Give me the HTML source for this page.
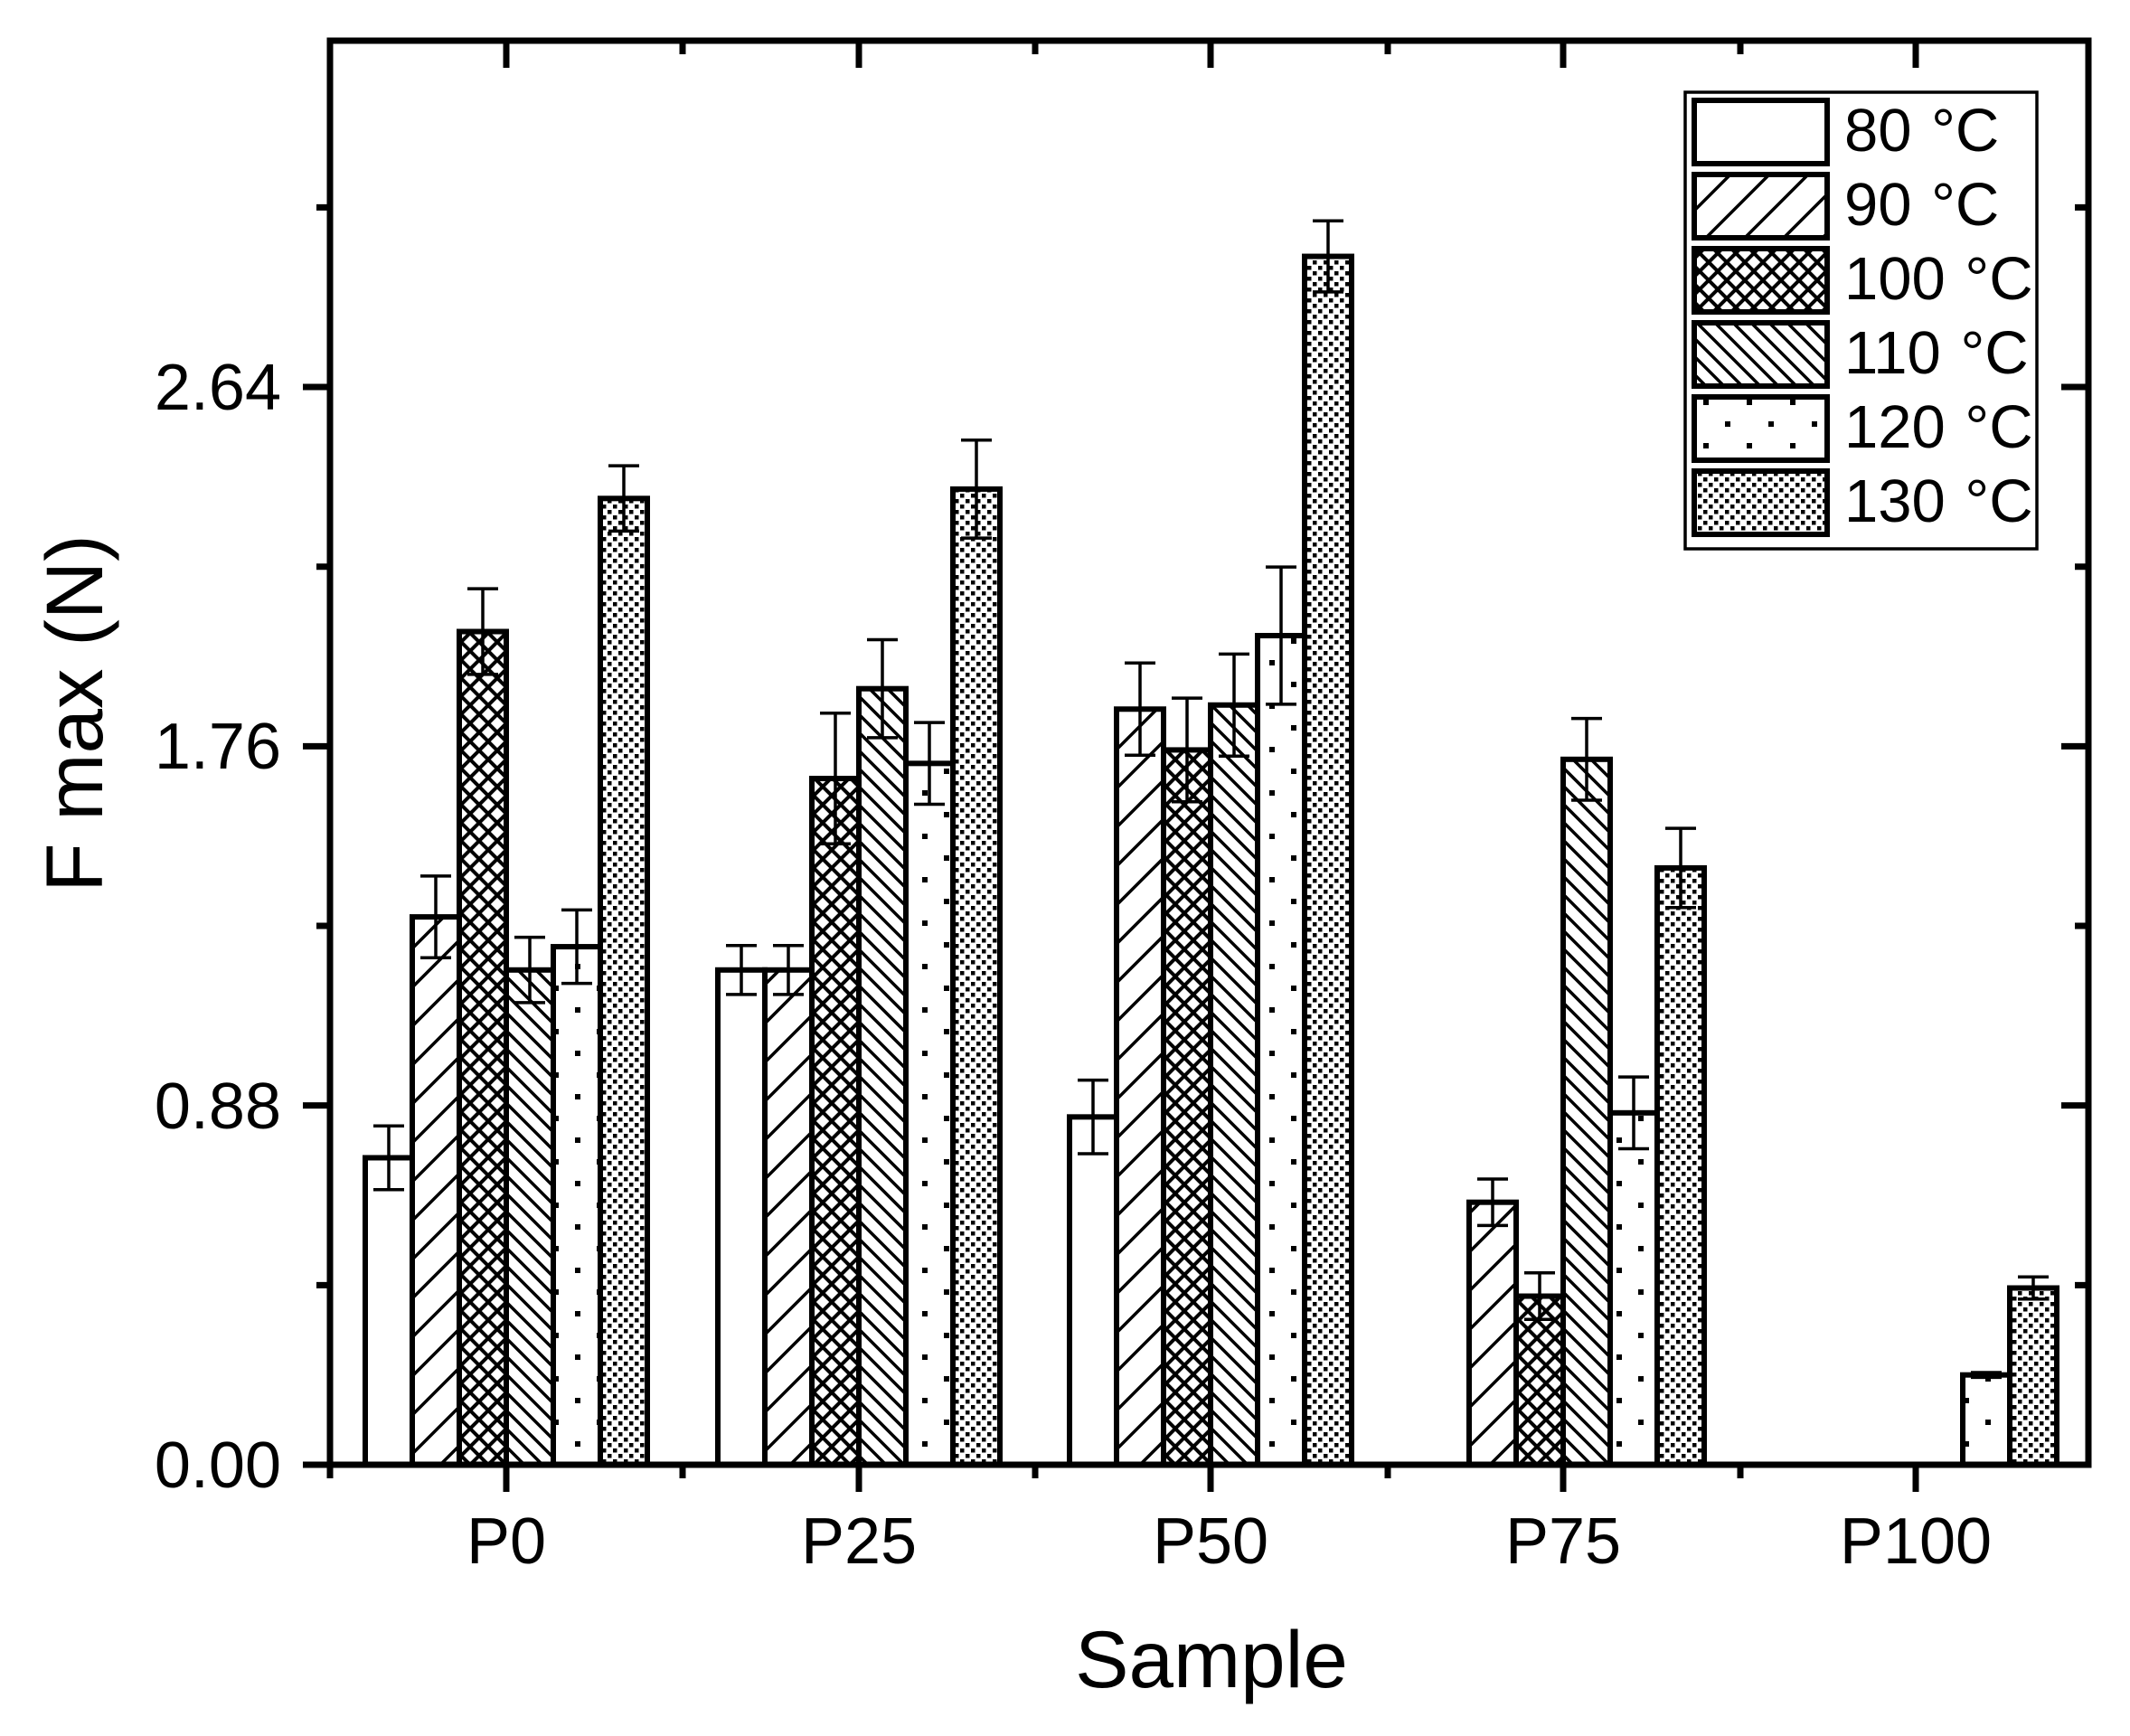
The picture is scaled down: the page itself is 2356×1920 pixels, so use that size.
<!DOCTYPE html>
<html><head><meta charset="utf-8"><style>html,body{margin:0;padding:0;background:#fff}svg{display:block}text{font-family:"Liberation Sans",Arial,sans-serif;fill:#000}</style></head>
<body>
<svg width="2356" height="1920" viewBox="0 0 2356 1920" xmlns="http://www.w3.org/2000/svg">
<defs>
<pattern id="p90" width="43" height="43" patternUnits="userSpaceOnUse"><path d="M-5,48 L48,-5 M-48,48 L5,-5 M38,48 L91,-5" stroke="#000" stroke-width="3.5"/></pattern>
<pattern id="p100" width="20" height="20" patternUnits="userSpaceOnUse"><path d="M-2,22 L22,-2 M-2,-2 L22,22 M-12,12 L12,-12 M8,32 L32,8 M-12,8 L12,32 M8,-12 L32,12" stroke="#000" stroke-width="4"/></pattern>
<pattern id="p110" width="20" height="20" patternUnits="userSpaceOnUse"><path d="M-2,-2 L22,22 M-12,8 L12,32 M8,-12 L32,12" stroke="#000" stroke-width="3.5"/></pattern>
<pattern id="p120" width="48" height="48" patternUnits="userSpaceOnUse"><rect x="12" y="10" width="6" height="6" fill="#000"/><rect x="36" y="34" width="6" height="6" fill="#000"/></pattern>
<pattern id="p130" width="12" height="12" patternUnits="userSpaceOnUse"><rect x="0" y="0" width="4.5" height="4.5" fill="#000"/><rect x="6" y="6" width="4.5" height="4.5" fill="#000"/></pattern>
</defs>
<g id="bars" stroke="#000" stroke-width="6"></g>
<g id="err" stroke="#000" stroke-width="3.5" fill="none"></g>
<rect x="365" y="45" width="1945" height="1575" fill="none" stroke="#000" stroke-width="7"/>
<g stroke="#000" stroke-width="7" id="ticks"></g>
<g font-size="72" text-anchor="end">
<text x="311" y="1645">0.00</text>
<text x="311" y="1248">0.88</text>
<text x="311" y="850">1.76</text>
<text x="311" y="453">2.64</text>
</g>
<g font-size="72" text-anchor="middle">
<text x="560" y="1729">P0</text>
<text x="950" y="1729">P25</text>
<text x="1339" y="1729">P50</text>
<text x="1729" y="1729">P75</text>
<text x="2119" y="1729">P100</text>
</g>
<text x="1340" y="1866" font-size="89" text-anchor="middle">Sample</text>
<text transform="translate(113,789) rotate(-90)" font-size="89" text-anchor="middle">F max (N)</text>
<rect x="1864" y="102" width="389" height="505" fill="#fff" stroke="#000" stroke-width="3.5"/>
<g stroke="#000" stroke-width="6">
<rect x="1874" y="111" width="147" height="70" fill="#fff"/>
<rect x="1874" y="193" width="147" height="70" fill="url(#p90)"/>
<rect x="1874" y="275" width="147" height="70" fill="url(#p100)"/>
<rect x="1874" y="357" width="147" height="70" fill="url(#p110)"/>
<rect x="1874" y="439" width="147" height="70" fill="url(#p120)"/>
<rect x="1874" y="521" width="147" height="70" fill="url(#p130)"/>
</g>
<g font-size="67">
<text x="2040" y="167">80 <tspan dx="3">°C</tspan></text>
<text x="2040" y="249">90 <tspan dx="3">°C</tspan></text>
<text x="2040" y="331">100 <tspan dx="3">°C</tspan></text>
<text x="2040" y="413">110 <tspan dx="3">°C</tspan></text>
<text x="2040" y="495">120 <tspan dx="3">°C</tspan></text>
<text x="2040" y="577">130 <tspan dx="3">°C</tspan></text>
</g>
<script>
var ns="http://www.w3.org/2000/svg";
function Y(v){return 1620-451.5*v;}
var centers=[560,950,1339,1729,2119];
var fills=["#fff","url(#p90)","url(#p100)","url(#p110)","url(#p120)","url(#p130)"];
var d=[
[[0.752,0.078],[1.342,0.1],[2.041,0.105],[1.212,0.08],[1.269,0.09],[2.367,0.08]],
[[1.212,0.06],[1.212,0.06],[1.681,0.16],[1.901,0.12],[1.718,0.1],[2.39,0.12]],
[[0.852,0.09],[1.851,0.113],[1.751,0.127],[1.861,0.125],[2.031,0.168],[2.96,0.087]],
[null,[0.643,0.057],[0.413,0.057],[1.728,0.1],[0.862,0.088],[1.462,0.097]],
[null,null,null,null,[0.22,0.006],[0.433,0.027]]];
var bars=document.getElementById("bars"),err=document.getElementById("err");
for(var g=0;g<5;g++)for(var i=0;i<6;i++){var e=d[g][i];if(!e)continue;
var x=centers[g]-156+i*52;var r=document.createElementNS(ns,"rect");
r.setAttribute("x",x);r.setAttribute("y",Y(e[0]));r.setAttribute("width",52);r.setAttribute("height",1620-Y(e[0]));r.setAttribute("fill",fills[i]);bars.appendChild(r);
var cx=x+26,t=Y(e[0]+e[1]),b=Y(e[0]-e[1]);var p=document.createElementNS(ns,"path");
p.setAttribute("d","M"+cx+","+t+"V"+b+"M"+(cx-17)+","+t+"H"+(cx+17)+"M"+(cx-17)+","+b+"H"+(cx+17));err.appendChild(p);}
var tk=document.getElementById("ticks"),s="";
for(var k=0;k<=7;k++){var y=Y(0.44*k);if(y<50)break;var L=(k%2==0)?30:15;s+="M365,"+y+"H"+(365-L)+"M2310,"+y+"H"+(2310-L);}
for(var g=0;g<5;g++){var x=centers[g];s+="M"+x+",1620V1650M"+x+",45V75";}
for(var g=0;g<6;g++){var x=365+390*g;if(x>2310)break;s+="M"+x+",1620V1635M"+x+",45V60";}
var pp=document.createElementNS(ns,"path");pp.setAttribute("d",s);tk.appendChild(pp);
</script>
</svg>
</body></html>
